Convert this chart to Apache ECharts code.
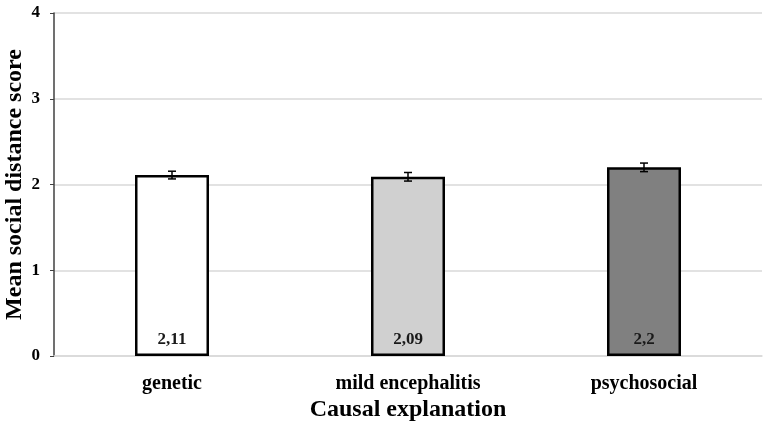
<!DOCTYPE html>
<html>
<head>
<meta charset="utf-8">
<script src="https://cdn.jsdelivr.net/npm/echarts@6/dist/echarts.min.js"></script>
<style>
  html, body { margin: 0; padding: 0; background: #fff; }
  #main { width: 765px; height: 425px; }
</style>
</head>
<body>
<div id="main"></div>
<script>
// data
var categories = ['genetic', 'mild encephalitis', 'psychosocial'];
var means = [2.11, 2.09, 2.2];
var errors = [0.045, 0.05, 0.05];
var labels = ['2,11', '2,09', '2,2'];
var barColors = ['#ffffff', '#d0d0d0', '#808080'];

var chart = echarts.init(document.getElementById('main'));
var font = 'Liberation Serif, Times New Roman, serif';

var option = {
  animation: false,
  grid: { left: 54, right: 3, top: 13, bottom: 69, containLabel: false, outerBoundsMode: 'none' },
  xAxis: {
    type: 'category',
    data: categories,
    name: 'Causal explanation',
    nameLocation: 'middle',
    nameGap: 42,
    nameMoveOverlap: false,
    nameTextStyle: { fontFamily: font, fontWeight: 'bold', fontSize: 24, color: '#000' },
    axisLine: { lineStyle: { color: '#d9d9d9', width: 1.5 } },
    axisTick: { show: false },
    axisLabel: { fontFamily: font, fontWeight: 'bold', fontSize: 20, color: '#000', margin: 18 }
  },
  yAxis: {
    type: 'value',
    min: 0, max: 4, interval: 1,
    name: 'Mean social distance score',
    nameLocation: 'middle',
    nameGap: 27,
    nameMoveOverlap: false,
    nameTextStyle: { fontFamily: font, fontWeight: 'bold', fontSize: 24, color: '#000' },
    axisLine: { show: true, lineStyle: { color: '#404040', width: 1.5 } },
    axisTick: { show: true, length: 4, lineStyle: { color: '#404040' } },
    axisLabel: { fontFamily: font, fontWeight: 'bold', fontSize: 17, color: '#000', margin: 14 },
    splitLine: { lineStyle: { color: '#d9d9d9', width: 1.5 } }
  },
  series: [
    {
      type: 'bar',
      barWidth: 74,
      data: means.map(function (v, i) {
        return {
          value: v,
          itemStyle: { color: barColors[i], borderColor: '#000', borderWidth: 2.5 },
          label: {
            show: true,
            position: 'insideBottom',
            distance: 8,
            formatter: labels[i],
            fontFamily: font,
            fontWeight: 'bold',
            fontSize: 17,
            color: '#1a1a1a'
          }
        };
      })
    },
    {
      type: 'custom',
      z: 10,
      data: means.map(function (v, i) { return [i, v - errors[i], v + errors[i]]; }),
      renderItem: function (params, api) {
        var lo = api.coord([api.value(0), api.value(1)]);
        var hi = api.coord([api.value(0), api.value(2)]);
        var w = 4;
        var style = { stroke: '#000', lineWidth: 1.5 };
        return {
          type: 'group',
          children: [
            { type: 'line', shape: { x1: lo[0], y1: lo[1], x2: hi[0], y2: hi[1] }, style: style },
            { type: 'line', shape: { x1: lo[0] - w, y1: lo[1], x2: lo[0] + w, y2: lo[1] }, style: style },
            { type: 'line', shape: { x1: hi[0] - w, y1: hi[1], x2: hi[0] + w, y2: hi[1] }, style: style }
          ]
        };
      }
    }
  ]
};
chart.setOption(option);
</script>
</body>
</html>
